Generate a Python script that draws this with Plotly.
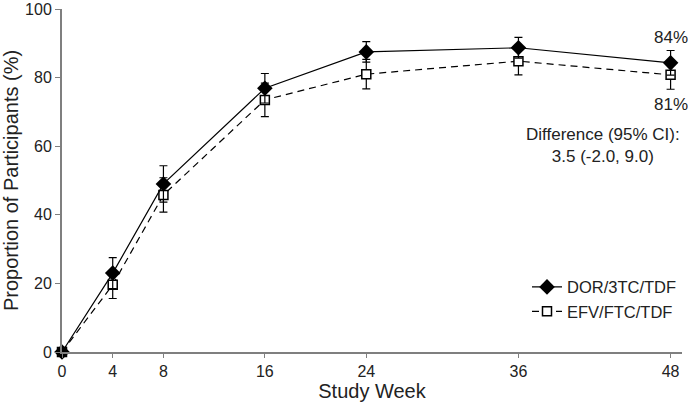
import plotly.graph_objects as go

weeks = [0, 4, 8, 16, 24, 36, 48]
tick_labels = ['0', '4', '8', '16', '24', '36', '48']

# DOR/3TC/TDF
dor_pct = [0, 23.0, 49.0, 76.9, 87.5, 88.7, 84.3]
dor_ci = [0, 4.5, 5.3, 4.3, 3.0, 3.0, 3.6]

# EFV/FTC/TDF
efv_pct = [0, 19.6, 45.8, 73.5, 81.0, 84.8, 80.8]
efv_ci = [0, 4.0, 5.0, 4.9, 4.3, 4.0, 4.2]

FONT = 'Liberation Sans, Arial, sans-serif'
GREY = '#7f7f7f'

fig = go.Figure()

fig.add_trace(go.Scatter(
    x=weeks, y=efv_pct, name='EFV/FTC/TDF', mode='lines+markers',
    line=dict(color='black', width=1.2, dash='7px,5px'),
    marker=dict(symbol='square', size=9, color='white', line=dict(color='black', width=1.5)),
    error_y=dict(type='data', array=efv_ci, color='black', thickness=1.2, width=4),
    cliponaxis=False,
))
fig.add_trace(go.Scatter(
    x=weeks, y=dor_pct, name='DOR/3TC/TDF', mode='lines+markers',
    line=dict(color='black', width=1.2),
    marker=dict(symbol='diamond', size=12, color='black'),
    error_y=dict(type='data', array=dor_ci, color='black', thickness=1.2, width=4),
    cliponaxis=False,
))

fig.add_annotation(x=48, y=dor_pct[-1] + 3.6, text='84%', showarrow=False,
                   yanchor='bottom', yshift=2)
fig.add_annotation(x=48, y=efv_pct[-1] - 4.2, text='81%', showarrow=False,
                   yanchor='top', yshift=-4)
fig.add_annotation(x=1, xref='paper', y=60.2, text='Difference (95% CI):<br>3.5 (-2.0, 9.0)',
                   showarrow=False, xanchor='right', align='center')

fig.update_layout(
    width=688, height=402,
    margin=dict(l=62, r=6, t=9, b=50, autoexpand=False),
    plot_bgcolor='white', paper_bgcolor='white',
    font=dict(family=FONT, size=17, color='#222222'),
    showlegend=True,
    legend=dict(x=1, xanchor='right', y=0.24, yanchor='top', traceorder='reversed',
                bgcolor='rgba(0,0,0,0)', font=dict(size=16.5), tracegroupgap=0),
    xaxis=dict(range=[0, 48.9], tickvals=weeks, ticktext=tick_labels, automargin=False,
               showgrid=False, zeroline=False, showline=True, linecolor=GREY, linewidth=2,
               ticks='outside', ticklen=4, tickcolor=GREY, tickfont=dict(size=16),
               title=dict(text='Study Week', standoff=4)),
    yaxis=dict(range=[0, 100], tickvals=[0, 20, 40, 60, 80, 100], automargin=False,
               showgrid=False, zeroline=False, showline=True, linecolor=GREY, linewidth=2,
               ticks='outside', ticklen=5, tickcolor=GREY, tickfont=dict(size=16),
               title=dict(text='Proportion of Participants (%)', standoff=8)),
)

fig.write_html('out.html', config={'displayModeBar': False},
               post_script="document.body.style.margin='0';")
